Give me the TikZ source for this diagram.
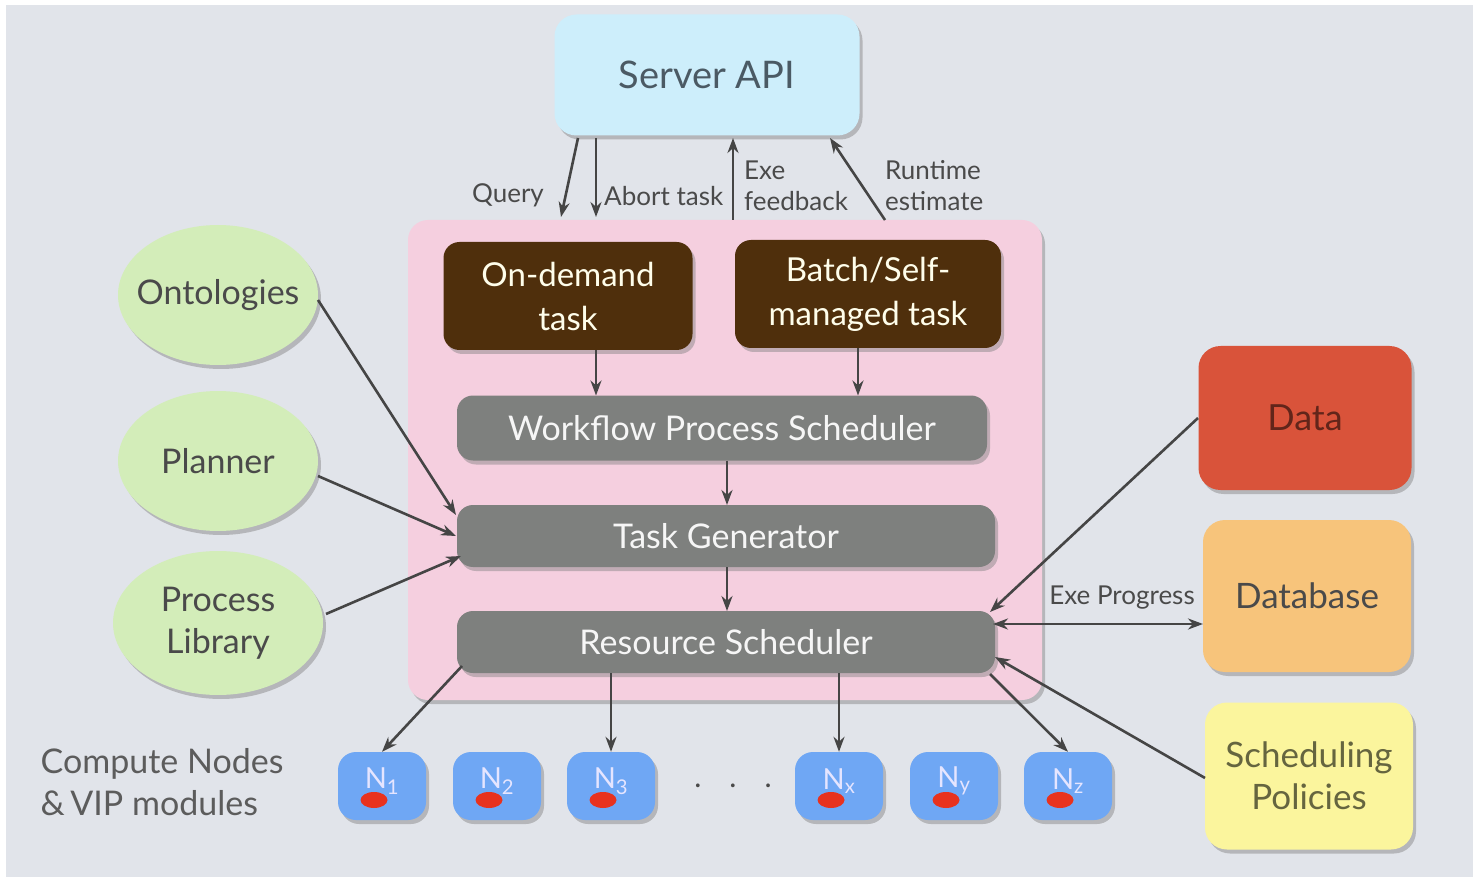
\documentclass[tikz,border=0pt]{standalone}
\usepackage{fontspec}
\setmainfont{Lato}
\usetikzlibrary{shapes.geometric,shadows,arrows.meta}
\definecolor{bgc}{HTML}{E1E4EA}
\definecolor{apic}{HTML}{CDEEFB}
\definecolor{pinkc}{HTML}{F5CFDF}
\definecolor{brownc}{HTML}{4F2F0C}
\definecolor{greyc}{HTML}{7E807E}
\definecolor{greenc}{HTML}{D3EDB9}
\definecolor{datac}{HTML}{D9533A}
\definecolor{dbc}{HTML}{F7C47B}
\definecolor{polc}{HTML}{FBF59D}
\definecolor{nodec}{HTML}{6FA7F4}
\definecolor{redc}{HTML}{E8321E}
\definecolor{linec}{HTML}{454545}
\definecolor{txtc}{HTML}{4A4A4A}
\definecolor{apitxt}{HTML}{4B5A64}
\tikzset{
  sh/.style={drop shadow={opacity=0.45,shadow xshift=3pt,shadow yshift=-4pt}},
  rbox/.style={rounded corners=#1,sh,inner sep=0pt,outer sep=0pt},
  rbox/.default=18pt,
  arr/.style={draw=linec,line width=2.6pt,-{Stealth[length=15pt,width=11pt]}},
  darr/.style={draw=linec,line width=2.6pt,{Stealth[length=15pt,width=11pt]}-{Stealth[length=15pt,width=11pt]}},
  lbl/.style={text=txtc,font=\fontsize{26}{31}\selectfont,inner sep=0pt,align=left},
  ell/.style={ellipse,fill=greenc,sh,inner xsep=-30pt,inner ysep=-8pt,text=txtc,font=\fontsize{34}{42}\selectfont,align=center},
  grbox/.style={rbox=16pt,fill=greyc,text=white!93!gray,font=\fontsize{34}{38}\selectfont},
  brbox/.style={rbox=16pt,fill=brownc,text=white!92!yellow,font=\fontsize{33}{44}\selectfont,align=center},
  cnode/.style={rounded corners=18pt,fill=nodec,sh,minimum width=88pt,minimum height=68pt,inner sep=0pt},
  nlab/.style={text=white!90!blue,font=\fontsize{29}{30}\selectfont,inner sep=0pt},
  reddot/.style={ellipse,fill=redc,minimum width=27pt,minimum height=16pt,inner sep=0pt},
}
\begin{document}
\begin{tikzpicture}[x=1pt,y=-1pt]
\useasboundingbox (0,0) rectangle (1473,877);
\fill[white] (0,0) rectangle (1473,877);
\fill[bgc] (6,5) rectangle (1473,877);
% Server API
\node[rbox=22pt,fill=apic,minimum width=305pt,minimum height=121pt,text=apitxt,font=\fontsize{38}{44}\selectfont] (api) at (707,75) {Server API};
% pink container
\node[rbox=20pt,fill=pinkc,minimum width=634pt,minimum height=480pt] (core) at (725,460) {};
% task boxes
\node[brbox,minimum width=249pt,minimum height=108pt] (od) at (568,296) {On-demand\\task};
\node[brbox,minimum width=266pt,minimum height=108pt] (bt) at (868,294) {Batch/Self-\\managed task};
\node[grbox,minimum width=530pt,minimum height=65pt] (wps) at (722,428) {Workflow Process Scheduler};
\node[grbox,minimum width=538pt,minimum height=62pt] (tg) at (726,536) {Task Generator};
\node[grbox,minimum width=538pt,minimum height=62pt] (rs) at (726,642) {Resource Scheduler};
% ellipses
\node[ell,minimum width=200pt,minimum height=140pt] (ont) at (218,295) {Ontologies};
\node[ell,minimum width=200pt,minimum height=140pt] (pl) at (218,461) {Planner};
\node[ell,minimum width=210pt,minimum height=144pt] (plib) at (218,623) {Process\\Library};
% right boxes
\node[rbox=22pt,fill=datac,minimum width=213pt,minimum height=144pt,text=datac!45!black,font=\rmfamily\fontsize{36}{40}\selectfont] (data) at (1305,418) {Data};
\node[rbox=22pt,fill=dbc,minimum width=208pt,minimum height=152pt,text=txtc,font=\fontsize{35}{40}\selectfont] (db) at (1307,596) {Database};
\node[rbox=22pt,fill=polc,minimum width=208pt,minimum height=147pt,text=txtc!85!yellow,font=\fontsize{35}{42}\selectfont,align=center] (pol) at (1309,776) {Scheduling\\Policies};
% compute nodes
\foreach \nm/\xx/\sb in {n1/382/1,n2/497/2,n3/611/3,nx/839/x,ny/954/y,nz/1068/z}{
  \node[cnode] (\nm) at (\xx,786) {};
  \node[reddot] (\nm r) at (\xx-8,800) {};
  \node[nlab] (\nm t) at (\xx,781) {N\textsubscript{\sb}};
}
\node[text=txtc,font=\fontsize{30}{30}\selectfont,inner sep=0pt] (dots) at (733,786) {.\hspace{28pt}.\hspace{28pt}.};
\node[text=txtc!90,font=\fontsize{34}{42}\selectfont,align=left,inner sep=0pt] (cnl) at (162,782) {Compute Nodes\\\&\,VIP modules};
% top arrows
\coordinate (q0) at (578,138); \coordinate (q1) at (561,217);
\coordinate (a0) at (596,138); \coordinate (a1) at (596,217);
\coordinate (e0) at (733,220); \coordinate (e1) at (733,138);
\coordinate (r0) at (885,220); \coordinate (r1) at (830,138);
\draw[arr] (q0) -- (q1);
\draw[arr] (a0) -- (a1);
\draw[arr] (e0) -- (e1);
\draw[arr] (r0) -- (r1);
\node[lbl] (lq) at (508,195) {Query};
\node[lbl,anchor=west] (la) at (604,196) {Abort task};
\node[lbl,anchor=west] (le) at (744,186) {Exe\\feedback};
\node[lbl,anchor=west] (lr) at (885,186) {Runtime\\estimate};
% internal arrows
\draw[arr] (od.south -| 596,0) -- (wps.north -| 596,0);
\draw[arr] (bt.south -| 858,0) -- (wps.north -| 858,0);
\draw[arr] (wps.south -| 727,0) -- (tg.north -| 727,0);
\draw[arr] (tg.south -| 727,0) -- (rs.north -| 727,0);
% left arrows
\coordinate (o0) at (318,300); \coordinate (o1) at (456,515);
\coordinate (p0) at (318,476); \coordinate (p1) at (456,536);
\coordinate (l0) at (326,614); \coordinate (l1) at (461,556);
\draw[arr] (o0) -- (o1);
\draw[arr] (p0) -- (p1);
\draw[arr] (l0) -- (l1);
% right arrows
\coordinate (d0) at (1198,418); \coordinate (d1) at (990,612);
\coordinate (s0) at (1205,778); \coordinate (s1) at (995,657);
\coordinate (g0) at (993,624); \coordinate (g1) at (1203,624);
\draw[arr] (d0) -- (d1);
\draw[arr] (s0) -- (s1);
\draw[darr] (g0) -- (g1);
\node[lbl] (lg) at (1122,598) {Exe Progress};
% bottom arrows
\coordinate (b1) at (462,666);
\coordinate (bz) at (990,674);
\draw[arr] (b1) -- (n1.north);
\draw[arr] (rs.south -| n3.north) -- (n3.north);
\draw[arr] (rs.south -| nx.north) -- (nx.north);
\draw[arr] (bz) -- (nz.north);
\end{tikzpicture}
\end{document}
